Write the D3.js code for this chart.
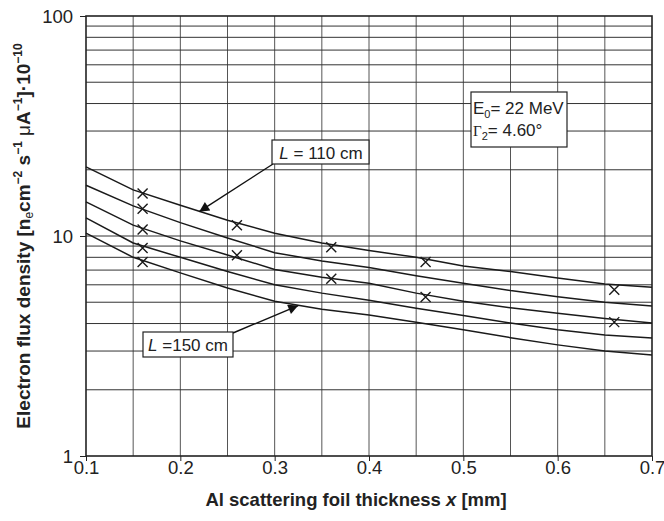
<!DOCTYPE html>
<html>
<head>
<meta charset="utf-8">
<script src="https://cdn.jsdelivr.net/npm/d3@7"></script>
<style>
  body { margin: 0; background: #fff; }
  text { font-family: "Liberation Sans", Arial, sans-serif; fill: #222; }
</style>
</head>
<body>
<svg id="chart" width="664" height="521"></svg>
<script>
// foil thickness in mm, sampled every 0.05
const thickness = [0.1, 0.15, 0.2, 0.25, 0.3, 0.35, 0.4, 0.45, 0.5, 0.55, 0.6, 0.65, 0.7];

// electron flux density for the five distances (top curve L = 110 cm, bottom L = 150 cm)
const fluxL110 = [20.6, 16.2, 13.8, 11.8, 10.3, 9.3, 8.6, 8.0, 7.3, 6.9, 6.45, 6.05, 5.85];
const fluxL120 = [17.0, 13.7, 11.5, 9.8, 8.4, 7.7, 7.2, 6.6, 6.1, 5.65, 5.3, 5.0, 4.81];
const fluxL130 = [14.3, 11.2, 9.5, 8.2, 7.05, 6.5, 6.1, 5.5, 5.05, 4.72, 4.45, 4.22, 4.02];
const fluxL140 = [12.1, 9.3, 8.0, 6.9, 6.0, 5.5, 5.1, 4.7, 4.35, 4.02, 3.75, 3.55, 3.44];
const fluxL150 = [10.3, 8.0, 6.8, 5.8, 5.05, 4.65, 4.37, 4.05, 3.75, 3.45, 3.2, 3.0, 2.88];

// measured points (crosses)
const measX = [0.16, 0.16, 0.16, 0.16, 0.16, 0.26, 0.26, 0.36, 0.36, 0.46, 0.46, 0.66, 0.66];
const measY = [15.6, 13.3, 10.7, 8.82, 7.62, 11.2, 8.17, 8.9, 6.4, 7.62, 5.28, 5.7, 4.06];

// axis ticks
const xTicks = [0.1, 0.2, 0.3, 0.4, 0.5, 0.6, 0.7];
const xGrid = [0.15, 0.2, 0.25, 0.3, 0.35, 0.4, 0.45, 0.5, 0.55, 0.6, 0.65];
const yTicks = [1, 10, 100];
const yGrid = [2, 3, 4, 5, 6, 7, 8, 9, 10, 20, 30, 40, 50, 60, 70, 80, 90];

const series = [fluxL110, fluxL120, fluxL130, fluxL140, fluxL150];

const margin = { top: 16, right: 12, bottom: 65, left: 86 };
const width = 664, height = 521;
const innerWidth = width - margin.left - margin.right;
const innerHeight = height - margin.top - margin.bottom;

const svg = d3.select("#chart");
const g = svg.append("g").attr("transform", `translate(${margin.left},${margin.top})`);

const xScale = d3.scaleLinear().domain([0.1, 0.7]).range([0, innerWidth]);
const yScale = d3.scaleLog().domain([1, 100]).range([innerHeight, 0]);

// grid lines
g.append("g")
    .selectAll("line")
    .data(xGrid)
    .join("line")
    .attr("x1", d => xScale(d)).attr("x2", d => xScale(d))
    .attr("y1", 0).attr("y2", innerHeight)
    .attr("stroke", "#555")
    .attr("stroke-width", 1);

g.append("g")
    .selectAll("line")
    .data(yGrid)
    .join("line")
    .attr("x1", 0).attr("x2", innerWidth)
    .attr("y1", d => yScale(d)).attr("y2", d => yScale(d))
    .attr("stroke", "#333")
    .attr("stroke-width", 1);

// axes
const xAxis = g.append("g")
    .attr("transform", `translate(0,${innerHeight})`)
    .call(d3.axisBottom(xScale).tickValues(xTicks).tickSize(5).tickFormat(d3.format(".1f")));
const yAxis = g.append("g")
    .call(d3.axisLeft(yScale).tickValues(yTicks).tickSize(6).tickFormat(d3.format("d")));

[xAxis, yAxis].forEach(a => {
    a.attr("font-size", null).attr("font-family", null);
    a.select(".domain").remove();
    a.selectAll("line").attr("stroke", "#222");
    a.selectAll("text")
        .attr("font-size", 18.5)
        .attr("fill", "#222");
});
xAxis.selectAll("text").attr("y", 18).attr("dy", null);
yAxis.selectAll("text").attr("x", -13).attr("dy", 6.5);

// frame
g.append("rect")
    .attr("width", innerWidth)
    .attr("height", innerHeight)
    .attr("fill", "none")
    .attr("stroke", "#222")
    .attr("stroke-width", 1.6);

// curves
const line = d3.line()
    .x((d, i) => xScale(thickness[i]))
    .y(d => yScale(d));

g.append("g")
    .selectAll("path")
    .data(series)
    .join("path")
    .attr("d", line)
    .attr("fill", "none")
    .attr("stroke", "#1a1a1a")
    .attr("stroke-width", 1.5);

// crosses
const cross = g.append("g")
    .selectAll("g")
    .data(measX.map((x, i) => ({ x, y: measY[i] })))
    .join("g")
    .attr("transform", d => `translate(${xScale(d.x)},${yScale(d.y)})`);
const s = 5;
cross.append("path")
    .attr("d", `M${-s},${-s}L${s},${s}M${-s},${s}L${s},${-s}`)
    .attr("stroke", "#1a1a1a")
    .attr("stroke-width", 1.4)
    .attr("fill", "none");

// arrow heads
svg.append("defs").append("marker")
    .attr("id", "arrow")
    .attr("viewBox", "0 0 10 10")
    .attr("refX", 10).attr("refY", 5)
    .attr("markerWidth", 15).attr("markerHeight", 10)
    .attr("markerUnits", "userSpaceOnUse")
    .attr("orient", "auto")
    .append("path")
    .attr("d", "M0,0L10,5L0,10Z")
    .attr("fill", "#111");

// L = 110 cm label
svg.append("line")
    .attr("x1", 273).attr("y1", 164)
    .attr("x2", xScale(0.22) + margin.left).attr("y2", yScale(12.9) + margin.top)
    .attr("stroke", "#111").attr("stroke-width", 1.4)
    .attr("marker-end", "url(#arrow)");
svg.append("rect")
    .attr("x", 272).attr("y", 140).attr("width", 97).attr("height", 24)
    .attr("fill", "#fff").attr("stroke", "#222").attr("stroke-width", 1.2);
const t1 = svg.append("text").attr("x", 321).attr("y", 158.5)
    .attr("text-anchor", "middle").attr("font-size", 17);
t1.append("tspan").attr("font-style", "italic").text("L");
t1.append("tspan").text(" = 110 cm");

// L = 150 cm label
svg.append("line")
    .attr("x1", 233).attr("y1", 333)
    .attr("x2", xScale(0.325) + margin.left).attr("y2", yScale(4.83) + margin.top)
    .attr("stroke", "#111").attr("stroke-width", 1.4)
    .attr("marker-end", "url(#arrow)");
svg.append("rect")
    .attr("x", 143).attr("y", 332).attr("width", 90).attr("height", 25)
    .attr("fill", "#fff").attr("stroke", "#222").attr("stroke-width", 1.2);
const t2 = svg.append("text").attr("x", 188).attr("y", 351)
    .attr("text-anchor", "middle").attr("font-size", 17);
t2.append("tspan").attr("font-style", "italic").text("L");
t2.append("tspan").text(" =150 cm");

// parameters box
svg.append("rect")
    .attr("x", 471).attr("y", 92).attr("width", 96).attr("height", 55)
    .attr("fill", "#fff").attr("stroke", "#222").attr("stroke-width", 1.2);
const p1 = svg.append("text").attr("x", 473).attr("y", 114).attr("font-size", 17);
p1.append("tspan").text("E");
p1.append("tspan").attr("font-size", 11).attr("dy", 4).text("0");
p1.append("tspan").attr("dy", -4).text("= 22 MeV");
const p2 = svg.append("text").attr("x", 473).attr("y", 136).attr("font-size", 17);
p2.append("tspan").style("font-family", "Liberation Serif, serif").attr("font-size", 15).text("Γ");
p2.append("tspan").attr("font-size", 11).attr("dy", 4).text("2");
p2.append("tspan").attr("dy", -4).text("= 4.60°");

// x axis title
const xt = svg.append("text")
    .attr("x", 356)
    .attr("y", 506)
    .attr("text-anchor", "middle")
    .attr("font-size", 18.5)
    .attr("font-weight", "bold");
xt.append("tspan").text("Al scattering foil thickness ");
xt.append("tspan").attr("font-style", "italic").text("x");
xt.append("tspan").text(" [mm]");

// y axis title: pieces laid out one after another along the rotated axis
const yTitleParts = [
    { t: "Electron flux density [n", size: 19, w: "bold", dy: 0 },
    { t: "e", size: 12, w: "normal", dy: 3 },
    { t: "cm", size: 19, w: "bold", dy: 0 },
    { t: "−2", size: 12, w: "bold", dy: -8 },
    { t: "\u00a0s", size: 19, w: "bold", dy: 0 },
    { t: "−1", size: 12, w: "bold", dy: -8 },
    { t: "\u00a0μ", size: 19, w: "normal", dy: 0 },
    { t: "A", size: 19, w: "bold", dy: 0 },
    { t: "−1", size: 12, w: "bold", dy: -8 },
    { t: "]·10", size: 19, w: "bold", dy: 0 },
    { t: "−10", size: 12, w: "bold", dy: -8 }
];
const yTitle = svg.append("g").attr("transform", "translate(30,236) rotate(-90)");
const pieces = yTitle.selectAll("text")
    .data(yTitleParts)
    .join("text")
    .attr("font-size", d => d.size)
    .attr("font-weight", d => d.w)
    .attr("y", d => d.dy)
    .text(d => d.t);
const lens = pieces.nodes().map(n => n.getComputedTextLength());
const total = d3.sum(lens);
let offset = -total / 2;
pieces.attr("x", (d, i) => {
    const x = offset;
    offset += lens[i];
    return x;
});
</script>
</body>
</html>
